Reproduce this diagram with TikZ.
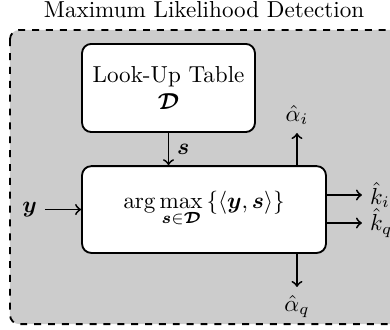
\documentclass[tikz,border=0pt]{standalone}
\usepackage{amsmath}
\usepackage{bm}
\begin{document}
\begin{tikzpicture}[
    box/.style={draw, thick, rounded corners, fill=#1, align=center},
    arr/.style={->, thick},
]
\clip (0,0) rectangle (5.932,-5.004);
\node[anchor=base] (title) at (3.103,-0.26) {Maximum Likelihood Detection};
\draw[thick, dashed, rounded corners, fill=gray!40] (0.152,-0.456) rectangle (6.5,-4.93);

\node[box=white, minimum width=2.63cm, minimum height=1.34cm] (lut)  at (2.563,-1.338) {Look-Up Table\\$\bm{\mathcal{D}}$};
\node[box=white, minimum width=3.71cm, minimum height=1.32cm] (ml)   at (3.103,-3.187)
    {$\displaystyle\arg\max_{\bm{s}\in\bm{\mathcal{D}}}\left\{\langle\bm{y},\bm{s}\rangle\right\}$};

\node[anchor=east]  (yin) at (0.684,-3.187) {$\bm{y}$};
\node[anchor=south] (ai)  at (4.517,-2.023) {$\hat{\alpha}_i$};
\node[anchor=north] (aq)  at (4.517,-4.365) {$\hat{\alpha}_q$};
\node[anchor=west]  (ki)  at (5.506,-2.966) {$\hat{k}_i$};
\node[anchor=west]  (kq)  at (5.506,-3.392) {$\hat{k}_q$};

\draw[arr] (lut.south) -- node[right]{$\bm{s}$} (lut.south |- ml.north);
\draw[arr] (yin) -- (yin -| ml.west);
\draw[arr] (ml.north -| ai.south) -- (ai.south);
\draw[arr] (ml.south -| aq.north) -- (aq.north);
\draw[arr] (ml.east |- ki.west) -- (ki.west);
\draw[arr] (ml.east |- kq.west) -- (kq.west);
\end{tikzpicture}
\end{document}
